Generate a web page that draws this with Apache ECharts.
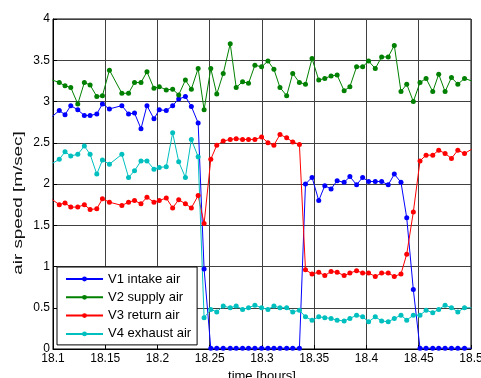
<!DOCTYPE html>
<html>
<head>
<meta charset="utf-8">
<script src="https://cdn.jsdelivr.net/npm/echarts@6/dist/echarts.min.js"></script>
<style>
  html, body { margin: 0; padding: 0; background: #fff; }
  #chart { width: 481px; height: 378px; }
</style>
</head>
<body>
<div id="chart"></div>
<script>
// sample times [hours] (one sample missing near 18.16)
var times = [
  18.0994, 18.1060, 18.1115, 18.1170, 18.1237, 18.1300, 18.1355, 18.1419, 18.1473, 18.1540,
  18.1659, 18.1723, 18.1780, 18.1842, 18.1899, 18.1966, 18.2017, 18.2084, 18.2145, 18.2203,
  18.2267, 18.2324, 18.2389, 18.2446, 18.2510, 18.2567, 18.2629, 18.2696, 18.2753, 18.2814,
  18.2871, 18.2932, 18.2996, 18.3057, 18.3114, 18.3172, 18.3236, 18.3294, 18.3358, 18.3416,
  18.3479, 18.3543, 18.3601, 18.3661, 18.3719, 18.3786, 18.3841, 18.3905, 18.3963, 18.4020,
  18.4084, 18.4145, 18.4208, 18.4266, 18.4330, 18.4385, 18.4448, 18.4512, 18.4570, 18.4634,
  18.4691, 18.4752, 18.4813, 18.4874, 18.4938, 18.5005
]

// V1 intake air [m/sec]
var v1 = [
  2.82, 2.89, 2.84, 2.95, 2.90, 2.83, 2.83, 2.85, 2.97, 2.91,
  2.95, 2.85, 2.86, 2.67, 2.95, 2.79, 2.90, 2.89, 2.95, 3.03,
  3.06, 2.94, 2.74, 0.97, 0.01, 0.01, 0.01, 0.01, 0.01, 0.01,
  0.01, 0.01, 0.01, 0.01, 0.01, 0.01, 0.01, 0.01, 0.01, 2.00,
  2.08, 1.80, 1.98, 1.94, 2.04, 2.02, 2.09, 1.99, 2.08, 2.03,
  2.03, 2.03, 1.99, 2.12, 2.02, 1.59, 0.72, 0.01, 0.01, 0.01,
  0.01, 0.01, 0.01, 0.01, 0.01, 0.01
]

// V2 supply air
var v2 = [
  3.26, 3.23, 3.19, 3.17, 2.97, 3.23, 3.20, 3.06, 3.07, 3.38,
  3.10, 3.10, 3.23, 3.23, 3.36, 3.16, 3.18, 3.14, 3.15, 3.08,
  3.26, 3.15, 3.40, 2.90, 3.40, 3.09, 3.34, 3.70, 3.17, 3.24,
  3.22, 3.44, 3.42, 3.49, 3.39, 3.17, 3.07, 3.34, 3.23, 3.21,
  3.52, 3.26, 3.28, 3.31, 3.32, 3.13, 3.18, 3.42, 3.42, 3.49,
  3.40, 3.54, 3.54, 3.68, 3.12, 3.21, 3.00, 3.23, 3.28, 3.12,
  3.33, 3.12, 3.29, 3.21, 3.28, 3.25
]

// V3 return air
var v3 = [
  1.81, 1.75, 1.77, 1.72, 1.72, 1.75, 1.69, 1.70, 1.82, 1.78,
  1.74, 1.78, 1.80, 1.76, 1.84, 1.78, 1.80, 1.83, 1.71, 1.81,
  1.76, 1.71, 1.86, 1.52, 2.30, 2.47, 2.52, 2.54, 2.55, 2.54,
  2.54, 2.54, 2.57, 2.50, 2.47, 2.60, 2.56, 2.51, 2.48, 0.96,
  0.91, 0.93, 0.89, 0.94, 0.93, 0.89, 0.92, 0.95, 0.92, 0.92,
  0.88, 0.92, 0.92, 0.88, 0.91, 1.15, 1.66, 2.28, 2.35, 2.35,
  2.41, 2.37, 2.31, 2.41, 2.37, 2.42
]

// V4 exhaust air
var v4 = [
  2.25, 2.30, 2.39, 2.34, 2.36, 2.46, 2.36, 2.12, 2.29, 2.24,
  2.36, 2.08, 2.16, 2.28, 2.28, 2.18, 2.20, 2.21, 2.62, 2.27,
  2.08, 2.54, 2.33, 0.38, 0.48, 0.45, 0.52, 0.50, 0.52, 0.48,
  0.50, 0.53, 0.50, 0.48, 0.52, 0.50, 0.50, 0.45, 0.47, 0.39,
  0.35, 0.39, 0.38, 0.37, 0.35, 0.34, 0.37, 0.41, 0.39, 0.33,
  0.39, 0.34, 0.33, 0.37, 0.41, 0.35, 0.41, 0.41, 0.47, 0.44,
  0.48, 0.53, 0.50, 0.45, 0.50, 0.50
]

var names = ['V1 intake air', 'V2 supply air', 'V3 return air', 'V4 exhaust air']
var colors = ['#0000ff', '#008000', '#ff0000', '#00bfbf']

var font = 'Liberation Sans, Arial, sans-serif'

function pairs (vals) {
  return times.map(function (t, i) { return [t, vals[i]] })
}

var chart = echarts.init(document.getElementById('chart'), null, {renderer: 'canvas'})

chart.setOption({
  animation: false,
  backgroundColor: '#fff',
  textStyle: {fontFamily: font},
  grid: {
    left: 53,
    top: 19,
    width: 418,
    height: 330,
    outerBoundsMode: 'none',
    show: true,
    borderColor: '#000',
    borderWidth: 1
  },
  // y label sits lower than the axis middle and is drawn stretched, as in the picture
  graphic: [{
    type: 'text',
    x: 18,
    y: 203,
    rotation: Math.PI / 2,
    scaleX: 1.45,
    style: {
      text: 'air speed [m/sec]',
      font: '13px ' + font,
      fill: '#111',
      textAlign: 'center',
      textVerticalAlign: 'middle'
    }
  }],
  legend: {
    orient: 'vertical',
    left: 57,
    top: 267,
    data: names,
    backgroundColor: '#fff',
    borderColor: '#000',
    borderWidth: 1,
    padding: [5, 6, 4, 8],
    itemWidth: 37,
    itemHeight: 6,
    itemGap: 4.3,
    textStyle: {fontFamily: font, fontSize: 13, lineHeight: 14, color: '#000'}
  },
  xAxis: {
    type: 'value',
    min: 18.1,
    max: 18.5,
    interval: 0.05,
    name: 'time [hours]',
    nameLocation: 'middle',
    nameGap: 19,
    nameTextStyle: {fontFamily: font, fontSize: 13, color: '#000'},
    axisLine: {lineStyle: {color: '#000', width: 1}},
    axisTick: {inside: true, length: 4, lineStyle: {color: '#000'}},
    axisLabel: {
      margin: 4,
      color: '#000',
      fontFamily: font,
      fontSize: 12,
      formatter: function (v) { return String(+v.toFixed(2)) }
    },
    splitLine: {show: true, lineStyle: {color: '#404040', width: 1}}
  },
  yAxis: {
    type: 'value',
    min: 0,
    max: 4,
    interval: 0.5,
    axisLine: {show: true, lineStyle: {color: '#000', width: 1}},
    axisTick: {show: true, inside: true, length: 4, lineStyle: {color: '#000'}},
    axisLabel: {
      margin: 3,
      color: '#000',
      fontFamily: font,
      fontSize: 12,
      formatter: function (v) { return String(+v.toFixed(2)) }
    },
    splitLine: {show: true, lineStyle: {color: '#404040', width: 1}}
  },
  series: [v1, v2, v3, v4].map(function (vals, i) {
    return {
      name: names[i],
      type: 'line',
      data: pairs(vals),
      clip: true,
      symbol: 'circle',
      symbolSize: 5,
      showSymbol: true,
      color: colors[i],
      itemStyle: {color: colors[i]},
      lineStyle: {color: colors[i], width: 1}
    }
  })
})
</script>
</body>
</html>
